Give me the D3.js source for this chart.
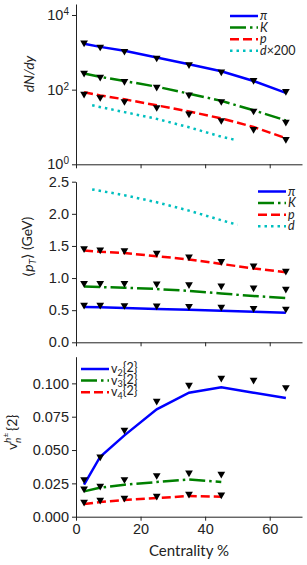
<!DOCTYPE html>
<html>
<head>
<meta charset="utf-8">
<script src="https://cdn.jsdelivr.net/npm/d3@7"></script>
<style>
  html, body { margin: 0; padding: 0; background: #fff; }
  svg { display: block; font-family: Lato, "DejaVu Sans", sans-serif; }
  .tick text { font-size: 14.5px; fill: #222; }
</style>
</head>
<body>
<div id="chart"></div>
<script>
// centrality bins (bin centres, %)
const centrality = [2.5, 7.5, 15, 25, 35, 45, 55, 65];
const centralityD = [5, 15, 25, 35, 45, 50];
const centralityV = [2.5, 7.5, 15, 25, 35, 45];

// dN/dy : model lines and data (triangles)
const dndyPiLine = [1700, 1400, 1100, 730, 480, 310, 170, 82];
const dndyKLine = [270, 220, 170, 120, 78, 50, 28, 15];
const dndyPLine = [85, 70, 55, 38, 26, 17, 10, 5];
const dndyDLine = [38, 25, 16.5, 9.8, 5.5, 4.4];
const dndyPiData = [1800, 1400, 1075, 710, 470, 300, 178, 90];
const dndyKData = [280, 219, 168, 118, 73, 48.5, 27, 13.5];
const dndyPData = [76, 62, 48.5, 33.5, 22.6, 15, 8.7, 4.7];

// <pT>
const ptPiLine = [0.55, 0.545, 0.535, 0.52, 0.505, 0.49, 0.475, 0.46];
const ptKLine = [0.87, 0.86, 0.85, 0.83, 0.80, 0.76, 0.72, 0.69];
const ptPLine = [1.43, 1.41, 1.39, 1.34, 1.29, 1.22, 1.15, 1.09];
const ptDLine = [2.38, 2.29, 2.18, 2.05, 1.9, 1.83];
const ptPiData = [0.58, 0.58, 0.575, 0.57, 0.56, 0.55, 0.53, 0.52];
const ptKData = [0.92, 0.92, 0.92, 0.91, 0.90, 0.88, 0.85, 0.83];
const ptPData = [1.46, 1.44, 1.43, 1.39, 1.33, 1.26, 1.19, 1.11];

// vn{2}
const v2Line = [0.024, 0.045, 0.061, 0.0805, 0.093, 0.097, 0.093, 0.089];
const v3Line = [0.019, 0.0218, 0.024, 0.026, 0.028, 0.026];
const v4Line = [0.0095, 0.011, 0.0125, 0.014, 0.0155, 0.015];
const v2Data = [0.028, 0.045, 0.065, 0.0868, 0.0988, 0.104, 0.1025, 0.097];
const v3Data = [0.021, 0.023, 0.028, 0.031, 0.033, 0.032];
const v4Data = [0.011, 0.0125, 0.014, 0.0155, 0.017, 0.0165];

const xTicks = [0, 20, 40, 60];

const W = 307, H = 565;
const left = 76, right = 302;

const styles = {
    blue:  { color: '#0000ff', dash: null },
    green: { color: '#008000', dash: '16,4,2.5,4' },
    red:   { color: '#ff0000', dash: '9,4' },
    cyan:  { color: '#00bfbf', dash: '2.5,4' }
};

const svg = d3.select('#chart').append('svg')
    .attr('width', W)
    .attr('height', H);

const x = d3.scaleLinear().domain([0, 70]).range([left, right]);

function drawLine(g, y, xs, ys, st) {
    const line = d3.line().x((d, i) => x(xs[i])).y(d => y(d));
    g.append('path')
        .datum(ys)
        .attr('d', line)
        .attr('fill', 'none')
        .attr('stroke', st.color)
        .attr('stroke-width', 2.5)
        .attr('stroke-dasharray', st.dash);
}

const tri = d3.symbol().type(d3.symbolTriangle).size(26);
function drawMarkers(g, y, xs, ys) {
    g.selectAll(null)
        .data(ys)
        .enter()
        .append('path')
        .attr('d', tri)
        .attr('transform', (d, i) => `translate(${x(xs[i])},${y(d)}) rotate(180)`)
        .attr('fill', '#000');
}

function drawLegend(g, lx, ly, items) {
    items.forEach((it, i) => {
        const yy = ly + i * 11.6;
        g.append('line')
            .attr('x1', lx).attr('x2', lx + 28)
            .attr('y1', yy).attr('y2', yy)
            .attr('stroke', it.st.color)
            .attr('stroke-width', 2.5)
            .attr('stroke-dasharray', it.st.dash);
        const t = g.append('text')
            .attr('x', lx + 30)
            .attr('y', yy + 4)
            .style('font-size', '12.5px')
            .attr('fill', '#222');
        it.label(t);
    });
}

function xAxis(g, yPos, labels) {
    const ax = g.append('g')
        .attr('transform', `translate(0,${yPos})`)
        .call(d3.axisBottom(x).tickValues(xTicks).tickSize(4).tickSizeOuter(0)
            .tickFormat(labels ? d3.format('d') : ''));
    ax.select('.domain').attr('stroke', '#222');
    ax.selectAll('.tick line').attr('stroke', '#222');
    return ax;
}

// ---------- panel 1: dN/dy ----------
const p1 = svg.append('g');
const y1 = d3.scaleLog().domain([1, 19700]).range([164.3, 4]);

drawLine(p1, y1, centrality, dndyPiLine, styles.blue);
drawLine(p1, y1, centrality, dndyKLine, styles.green);
drawLine(p1, y1, centrality, dndyPLine, styles.red);
drawLine(p1, y1, centralityD, dndyDLine, styles.cyan);
drawMarkers(p1, y1, centrality, dndyPiData);
drawMarkers(p1, y1, centrality, dndyKData);
drawMarkers(p1, y1, centrality, dndyPData);

const ay1 = p1.append('g')
    .attr('transform', `translate(${left},0)`)
    .call(d3.axisLeft(y1).tickValues([1, 100, 10000]).tickSize(4).tickSizeOuter(0).tickFormat(''));
ay1.select('.domain').attr('stroke', '#222');
ay1.selectAll('.tick line').attr('stroke', '#222');
ay1.selectAll('.tick').each(function(d) {
    const t = d3.select(this).select('text')
        .attr('x', -7).attr('dy', '0.32em').attr('fill', '#222');
    t.append('tspan').text('10');
    t.append('tspan').attr('dy', '-0.5em').style('font-size', '10px').text(Math.round(Math.log10(d)));
});
xAxis(p1, 164.3, false);

p1.append('text')
    .attr('transform', 'translate(34,74) rotate(-90)')
    .attr('text-anchor', 'middle')
    .style('font-size', '14px')
    .style('font-style', 'italic')
    .attr('fill', '#222')
    .text('dN/dy');

drawLegend(p1, 230, 16, [
    { st: styles.blue, label: t => t.style('font-style', 'italic').text('π') },
    { st: styles.green, label: t => t.style('font-style', 'italic').text('K') },
    { st: styles.red, label: t => t.style('font-style', 'italic').text('p') },
    { st: styles.cyan, label: t => {
        t.append('tspan').style('font-style', 'italic').text('d');
        t.append('tspan').text('×200');
    } }
]);

// ---------- panel 2: <pT> ----------
const p2 = svg.append('g');
const y2 = d3.scaleLinear().domain([0, 2.5]).range([342.3, 181.7]);

drawLine(p2, y2, centrality, ptPiLine, styles.blue);
drawLine(p2, y2, centrality, ptKLine, styles.green);
drawLine(p2, y2, centrality, ptPLine, styles.red);
drawLine(p2, y2, centralityD, ptDLine, styles.cyan);
drawMarkers(p2, y2, centrality, ptPiData);
drawMarkers(p2, y2, centrality, ptKData);
drawMarkers(p2, y2, centrality, ptPData);

const ay2 = p2.append('g')
    .attr('transform', `translate(${left},0)`)
    .call(d3.axisLeft(y2).tickValues([0, 0.5, 1, 1.5, 2, 2.5]).tickSize(4).tickSizeOuter(0).tickFormat(d3.format('.1f')));
ay2.select('.domain').attr('stroke', '#222');
ay2.selectAll('.tick line').attr('stroke', '#222');
ay2.selectAll('.tick text').attr('x', -7);
xAxis(p2, 342.3, false);

const yl2 = p2.append('text')
    .attr('transform', 'translate(33,247) rotate(-90)')
    .attr('text-anchor', 'middle')
    .style('font-size', '14px')
    .attr('fill', '#222');
yl2.append('tspan').text('⟨');
yl2.append('tspan').style('font-style', 'italic').text('p');
yl2.append('tspan').attr('dy', '0.3em').style('font-size', '10px').style('font-style', 'italic').text('T');
yl2.append('tspan').attr('dy', '-0.3em').text('⟩ (GeV)');

drawLegend(p2, 258, 191.5, [
    { st: styles.blue, label: t => t.style('font-style', 'italic').text('π') },
    { st: styles.green, label: t => t.style('font-style', 'italic').text('K') },
    { st: styles.red, label: t => t.style('font-style', 'italic').text('p') },
    { st: styles.cyan, label: t => t.style('font-style', 'italic').text('d') }
]);

// ---------- panel 3: vn{2} ----------
const p3 = svg.append('g');
const y3 = d3.scaleLinear().domain([0, 0.12]).range([516.7, 356.7]);

drawLine(p3, y3, centrality, v2Line, styles.blue);
drawLine(p3, y3, centralityV, v3Line, styles.green);
drawLine(p3, y3, centralityV, v4Line, styles.red);
drawMarkers(p3, y3, centrality, v2Data);
drawMarkers(p3, y3, centralityV, v3Data);
drawMarkers(p3, y3, centralityV, v4Data);

const ay3 = p3.append('g')
    .attr('transform', `translate(${left},0)`)
    .call(d3.axisLeft(y3).tickValues([0, 0.025, 0.05, 0.075, 0.1]).tickSize(4).tickSizeOuter(0).tickFormat(d3.format('.3f')));
ay3.select('.domain').attr('stroke', '#222');
ay3.selectAll('.tick line').attr('stroke', '#222');
ay3.selectAll('.tick text').attr('x', -7);
const ax3 = xAxis(p3, 516.7, true);
ax3.selectAll('.tick text').attr('y', 7);

p3.append('text')
    .attr('x', (left + right) / 2)
    .attr('y', 556)
    .attr('text-anchor', 'middle')
    .style('font-size', '15px')
    .attr('fill', '#222')
    .text('Centrality %');

// v_n^{h±}{2}, pieces placed along the rotated baseline
const yl3 = p3.append('g')
    .attr('transform', 'translate(17,429) rotate(-90)')
    .attr('fill', '#222');
yl3.append('text').attr('x', -21).attr('y', 0).style('font-size', '14px').text('v');
yl3.append('text').attr('x', -14).attr('y', -6).style('font-size', '10px')
    .style('font-style', 'italic').text('h');
yl3.append('text').attr('x', -8.5).attr('y', -9).style('font-size', '8px').text('±');
yl3.append('text').attr('x', -14).attr('y', 3.5).style('font-size', '10px')
    .style('font-style', 'italic').text('n');
yl3.append('text').attr('x', -2).attr('y', 0).style('font-size', '14px').text('{2}');

function vLabel(n) {
    return t => {
        t.append('tspan').text('v');
        t.append('tspan').attr('dy', '0.3em').style('font-size', '9px').text(n);
        t.append('tspan').attr('dy', '-0.3em').text('{2}');
    };
}
drawLegend(p3, 81, 369, [
    { st: styles.blue, label: vLabel(2) },
    { st: styles.green, label: vLabel(3) },
    { st: styles.red, label: vLabel(4) }
]);
</script>
</body>
</html>
